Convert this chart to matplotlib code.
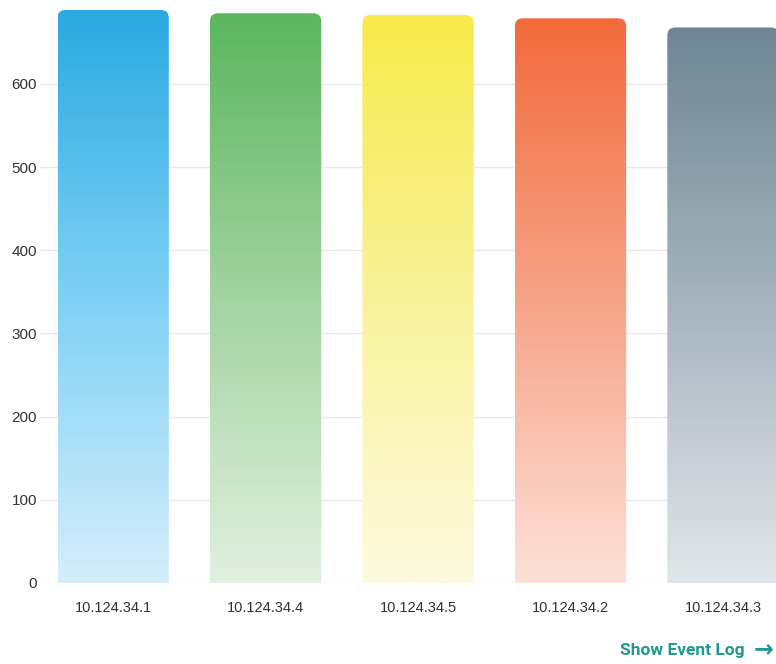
import numpy as np
import matplotlib
matplotlib.use("Agg")
import matplotlib.pyplot as plt
from matplotlib.path import Path
from matplotlib.patches import PathPatch
from matplotlib.colors import LinearSegmentedColormap

hosts = ["10.124.34.1", "10.124.34.4", "10.124.34.5", "10.124.34.2", "10.124.34.3"]
counts = [689, 685, 683, 679, 668]
top_colors = ["#2aa9e1", "#5bb65e", "#f7ea4a", "#f26a3b", "#6e8694"]
mid_colors = ["#7ed1f5", "#a2d4a0", "#f8f39a", "#f6a488", "#a6b5bd"]
bottom_colors = ["#d6eefb", "#e1f1e0", "#fdfbe0", "#fde1d9", "#e1e6e9"]
y_ticks = [0, 100, 200, 300, 400, 500, 600]

BAR_WIDTH = 0.73
RADIUS_PX = 8


def rounded_top_bar(x0, w, h, rx, ry):
    # rectangle with the two upper corners rounded (quadratic curves)
    verts = [
        (x0, 0), (x0, h - ry), (x0, h), (x0 + rx, h),
        (x0 + w - rx, h), (x0 + w, h), (x0 + w, h - ry),
        (x0 + w, 0), (x0, 0),
    ]
    codes = [
        Path.MOVETO, Path.LINETO, Path.CURVE3, Path.CURVE3,
        Path.LINETO, Path.CURVE3, Path.CURVE3,
        Path.LINETO, Path.CLOSEPOLY,
    ]
    return Path(verts, codes)


fig = plt.figure(figsize=(7.76, 6.64), dpi=100)
ax = fig.add_axes([40 / 776, 81 / 664, 1 - 40 / 776, 583 / 664])
ax.set_xlim(-0.48, 4.348)
ax.set_ylim(0, 701)

for y in y_ticks[1:]:
    ax.axhline(y, color="#e9e9e9", lw=1, zorder=0)
ax.axhline(0, color="#f0f0f0", lw=1, zorder=0)

# pixels per data unit, for the corner radius
px_x = ax.get_window_extent().width / (ax.get_xlim()[1] - ax.get_xlim()[0])
px_y = ax.get_window_extent().height / (ax.get_ylim()[1] - ax.get_ylim()[0])
rx = RADIUS_PX / px_x
ry = RADIUS_PX / px_y

bars = ax.bar(range(len(hosts)), counts, width=BAR_WIDTH, color="none", zorder=1)
for rect, top, mid, bottom in zip(bars, top_colors, mid_colors, bottom_colors):
    x0, h, w = rect.get_x(), rect.get_height(), rect.get_width()
    patch = PathPatch(rounded_top_bar(x0, w, h, rx, ry), facecolor="none",
                      edgecolor="none")
    ax.add_patch(patch)
    cmap = LinearSegmentedColormap.from_list("g", [bottom, mid, top])
    grad = np.linspace(0, 1, 256).reshape(-1, 1)
    im = ax.imshow(grad, cmap=cmap, origin="lower", aspect="auto",
                   extent=(x0, x0 + w, 0, h), zorder=2)
    im.set_clip_path(patch)

ax.set_xlim(-0.48, 4.348)
ax.set_ylim(0, 701)

for side in ax.spines.values():
    side.set_visible(False)
ax.tick_params(length=0)
ax.set_yticks(y_ticks)
ax.set_yticklabels([str(v) for v in y_ticks], fontsize=11,
                   family="Liberation Sans", color="#333333")
ax.tick_params(axis="y", pad=2)
ax.set_xticks(range(len(hosts)))
ax.set_xticklabels(hosts, fontsize=10.5, family="Liberation Sans",
                   color="#333333")
ax.tick_params(axis="x", pad=13)

fig.text(745 / 776, 14 / 664, "Show Event Log", ha="right", va="center",
         fontsize=12.5, fontweight="bold", color="#1e9a8c", family="Roboto")
fig.text(773 / 776, 15 / 664, "\u2192", ha="right", va="center",
         fontsize=17, fontweight="bold", color="#1e9a8c", family="DejaVu Sans")

fig.savefig("out.png", dpi=100)
